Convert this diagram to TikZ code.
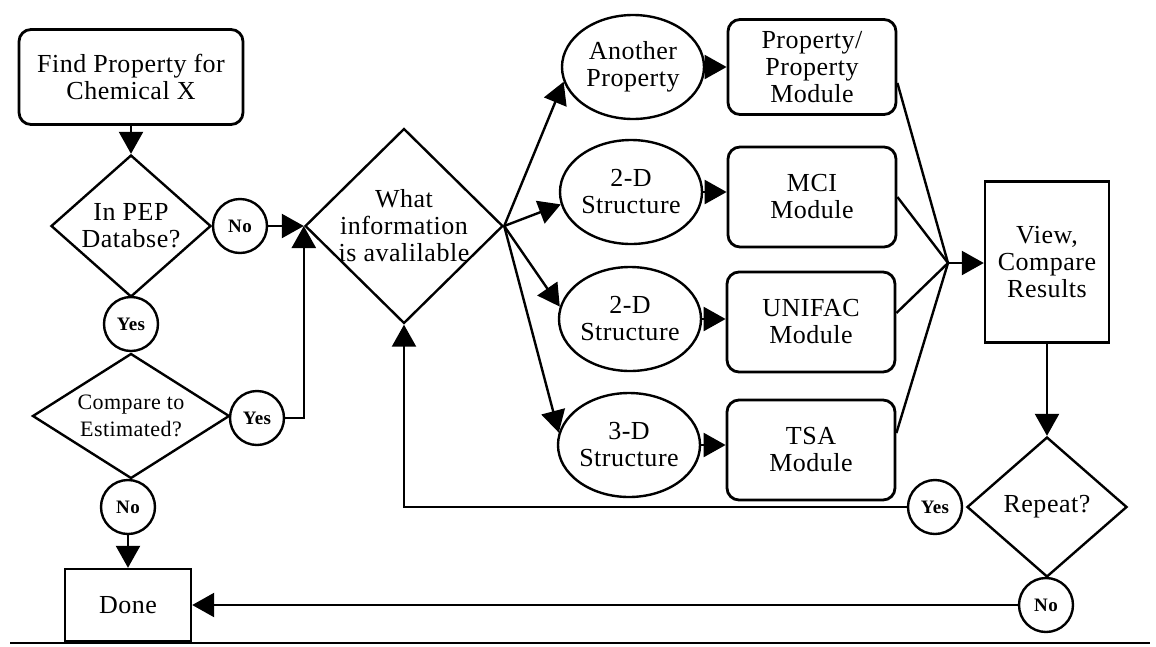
\documentclass[tikz,border=0pt]{standalone}
\usepackage{fontspec}
\setmainfont[LetterSpace=2]{Liberation Serif}
\usetikzlibrary{shapes.geometric, arrows.meta}

\begin{document}
\begin{tikzpicture}[x=1pt, y=-1pt,
  every node/.style={font=\fontsize{26}{27}\selectfont, align=center},
  conn/.style={line width=2.4pt, -{Triangle[length=22pt,width=24pt]}},
  plain/.style={line width=2.4pt},
  roundbox/.style={draw, line width=2.8pt, rounded corners=12pt, inner sep=0pt},
  sqbox/.style={draw, line width=2.4pt, inner sep=0pt},
  decision/.style={draw, diamond, line width=2.4pt, inner sep=0pt},
  dtext/.style={font=\fontsize{26}{27}\selectfont, align=center, inner sep=0pt},
  oval/.style={draw, ellipse, line width=2.4pt, inner sep=0pt,
    minimum width=142pt, minimum height=104pt},
  ans/.style={draw, circle, line width=2.4pt, inner sep=0pt, minimum size=54pt,
    font=\bfseries\fontsize{19}{19}\selectfont}
]
\useasboundingbox (0,0) rectangle (1156,646);

% left column: lookup in the database
\node[roundbox, minimum width=224pt, minimum height=95pt] (find) at (131,77)
  {Find Property for\\Chemical X};
\node[decision, minimum width=160pt, minimum height=142pt,
  label={[dtext]center:In PEP\\Databse?}] (d1) at (131,226) {};
\node[ans] (no1) at (240,226) {No};
\node[ans] (yes1) at (131,324) {Yes};
\node[decision, minimum width=197pt, minimum height=125pt,
  label={[dtext, font=\fontsize{22}{27}\selectfont]center:Compare to\\Estimated?}] (d3) at (131,416) {};
\node[ans] (yes2) at (257,418) {Yes};
\node[ans] (no2) at (128,507) {No};
\node[sqbox, minimum width=126pt, minimum height=72pt] (done) at (128,605) {Done};

% choice of estimation route
\node[decision, minimum width=198pt, minimum height=195pt,
  label={[dtext]center:What\\information\\is avalilable}] (d2) at (404,226) {};

\node[oval] (e1) at (633,67) {Another\\Property};
\node[oval] (e2) at (631,192) {2-D\\Structure};
\node[oval] (e3) at (630,319) {2-D\\Structure};
\node[oval] (e4) at (629,445) {3-D\\Structure};

\node[roundbox, minimum width=168pt, minimum height=95pt] (m1) at (812,67)
  {Property/\\Property\\Module};
\node[roundbox, minimum width=168pt, minimum height=100pt] (m2) at (812,197)
  {MCI\\Module};
\node[roundbox, minimum width=168pt, minimum height=100pt] (m3) at (811,322)
  {UNIFAC\\Module};
\node[roundbox, minimum width=168pt, minimum height=100pt] (m4) at (811,450)
  {TSA\\Module};

% results and repetition
\node[sqbox, minimum width=124pt, minimum height=161pt] (view) at (1047,262)
  {View,\\Compare\\Results};
\node[decision, minimum width=160pt, minimum height=140pt,
  label={[dtext]center:Repeat?}] (rep) at (1047,507) {};
\node[ans] (yes3) at (935,507) {Yes};
\node[ans] (no3) at (1046,605) {No};
\coordinate (merge) at (948,263);

% connectors
\draw[conn] (find.south) -- (d1.north);
\draw[conn] (no1.east) -- (d2.west);
\draw[conn] (yes2.east) -| (d2.west);
\draw[conn] (no2.south) -- (done.north);

\draw[conn] (d2.east) -- (e1.192);
\draw[conn] (d2.east) -- (e2.190);
\draw[conn] (d2.east) -- (e3.170);
\draw[conn] (d2.east) -- (e4.170);

\draw[conn] (e1.east) -- (e1.east -| m1.west);
\draw[conn] (e2.east) -- (e2.east -| m2.west);
\draw[conn] (e3.east) -- (e3.east -| m3.west);
\draw[conn] (e4.east) -- (e4.east -| m4.west);

\draw[plain] ([yshift=-16pt]m1.east) -- (merge);
\draw[plain] (m2.east) -- (merge);
\draw[plain] ([yshift=9pt]m3.east) -- (merge);
\draw[plain] ([yshift=17pt]m4.east) -- (merge);
\draw[conn] (merge) -- (view.west |- merge);

\draw[conn] (view.south) -- (rep.north);
\draw[conn] (yes3.west) -| (d2.south);
\draw[conn] (no3.west) -- (no3.west -| done.east);

% rule under the chart
\draw[plain] (10,643) -- (1150,643);
\end{tikzpicture}
\end{document}
